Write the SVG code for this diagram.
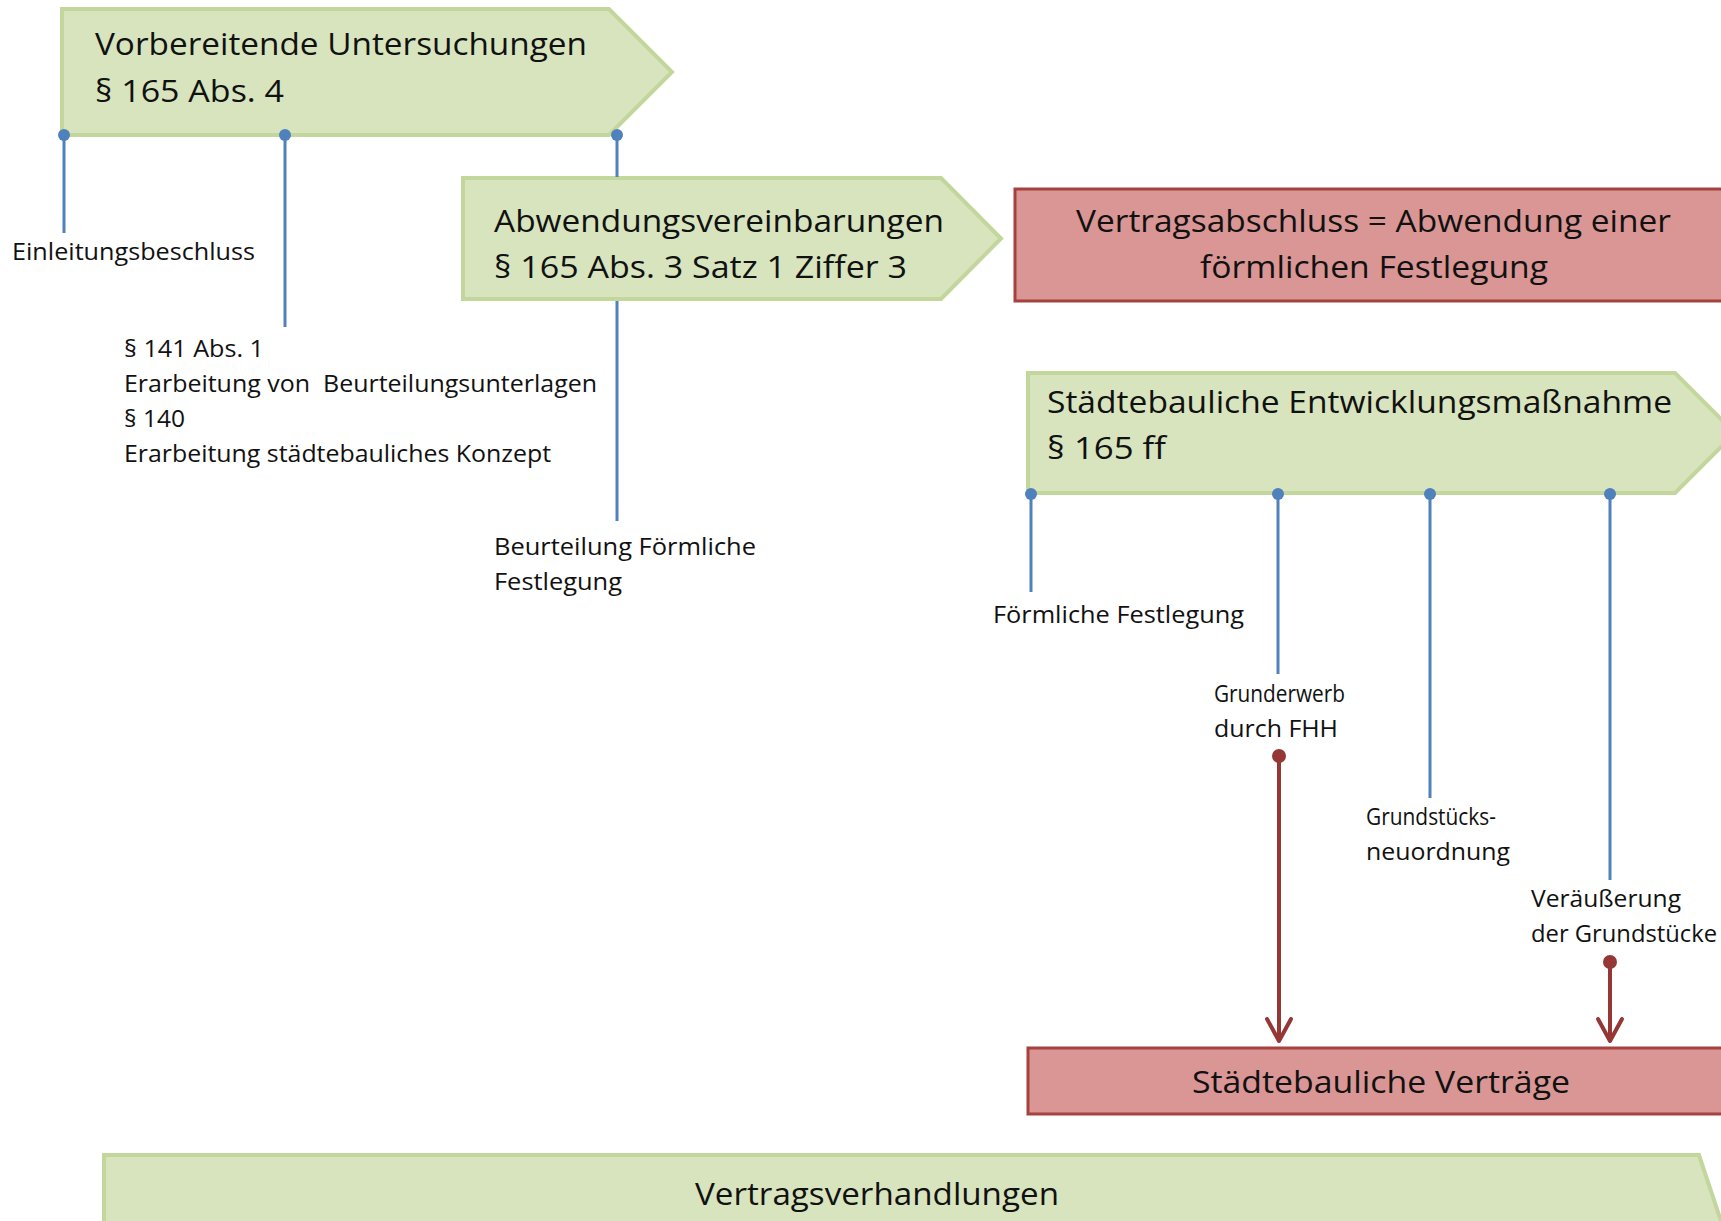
<svg xmlns="http://www.w3.org/2000/svg" width="1721" height="1221" viewBox="0 0 1721 1221">
<style>
.g{fill:#D7E4BD;stroke:#C3D69B;stroke-width:4}
.r{fill:#D99694;stroke:#A5423F;stroke-width:3}
.t{font-family:"Open Sans","Liberation Sans",sans-serif;fill:#111}
.big{font-size:31px}
.sm{font-size:23px}
.bl{stroke:#4F81BD;stroke-width:3;fill:none}
.bd{fill:#4F81BD}
.rl{stroke:#953735;stroke-width:4;fill:none}
.rd{fill:#953735}
</style>
<defs>
<marker id="arr" markerUnits="userSpaceOnUse" viewBox="-26 -16 30 32" refX="0" refY="0" markerWidth="30" markerHeight="32" orient="auto">
<path d="M-22,-12 L0,0 L-22,12" fill="none" stroke="#953735" stroke-width="4" stroke-linejoin="round" stroke-linecap="round"/>
</marker>
</defs>
<rect width="1721" height="1221" fill="#fff"/>

<g id="vorbereitende">
<path class="g" d="M62,9 H609 L672,72 L609,135 H62 Z"/>
<text class="t big" x="95" y="55" textLength="492" lengthAdjust="spacingAndGlyphs">Vorbereitende Untersuchungen</text>
<text class="t big" x="95" y="102" textLength="189" lengthAdjust="spacingAndGlyphs">§ 165 Abs. 4</text>
</g>

<g id="einleitung">
<text class="t sm" x="12" y="260" textLength="243" lengthAdjust="spacingAndGlyphs">Einleitungsbeschluss</text>
</g>

<g id="par141">
<text class="t sm" x="124" y="357" textLength="140" lengthAdjust="spacingAndGlyphs">§ 141 Abs. 1</text>
<text class="t sm" x="124" y="392" xml:space="preserve" textLength="473" lengthAdjust="spacingAndGlyphs">Erarbeitung von  Beurteilungsunterlagen</text>
<text class="t sm" x="124" y="427" textLength="61" lengthAdjust="spacingAndGlyphs">§ 140</text>
<text class="t sm" x="124" y="462" textLength="427" lengthAdjust="spacingAndGlyphs">Erarbeitung städtebauliches Konzept</text>
</g>

<g id="abwendung">
<path class="g" d="M463,178 H941 L1001,238.5 L941,299 H463 Z"/>
<text class="t big" x="494" y="232" textLength="450" lengthAdjust="spacingAndGlyphs">Abwendungsvereinbarungen</text>
<text class="t big" x="494" y="278" textLength="413" lengthAdjust="spacingAndGlyphs">§ 165 Abs. 3 Satz 1 Ziffer 3</text>
</g>

<g id="beurteilung">
<text class="t sm" x="494" y="555" textLength="262" lengthAdjust="spacingAndGlyphs">Beurteilung Förmliche</text>
<text class="t sm" x="494" y="590" textLength="128" lengthAdjust="spacingAndGlyphs">Festlegung</text>
</g>

<g id="vertragsabschluss">
<rect class="r" x="1015" y="189" width="730" height="112"/>
<text class="t big" x="1076" y="232" textLength="595" lengthAdjust="spacingAndGlyphs">Vertragsabschluss = Abwendung einer</text>
<text class="t big" x="1200" y="278" textLength="348" lengthAdjust="spacingAndGlyphs">förmlichen Festlegung</text>
</g>

<g id="entwicklung">
<path class="g" d="M1028,373 H1675 L1735,433 L1675,493 H1028 Z"/>
<text class="t big" x="1047" y="413" textLength="625" lengthAdjust="spacingAndGlyphs">Städtebauliche Entwicklungsmaßnahme</text>
<text class="t big" x="1047" y="459" textLength="119" lengthAdjust="spacingAndGlyphs">§ 165 ff</text>
</g>

<g id="foermliche">
<text class="t sm" x="993" y="623" textLength="251" lengthAdjust="spacingAndGlyphs">Förmliche Festlegung</text>
</g>

<g id="grunderwerb">
<text class="t sm" x="1214" y="702" textLength="131" lengthAdjust="spacingAndGlyphs">Grunderwerb</text>
<text class="t sm" x="1214" y="737" textLength="124" lengthAdjust="spacingAndGlyphs">durch FHH</text>
</g>

<g id="neuordnung">
<text class="t sm" x="1366" y="825" textLength="130" lengthAdjust="spacingAndGlyphs">Grundstücks-</text>
<text class="t sm" x="1366" y="860" textLength="144" lengthAdjust="spacingAndGlyphs">neuordnung</text>
</g>

<g id="veraeusserung">
<text class="t sm" x="1531" y="907" textLength="150" lengthAdjust="spacingAndGlyphs">Veräußerung</text>
<text class="t sm" x="1531" y="942" textLength="186" lengthAdjust="spacingAndGlyphs">der Grundstücke</text>
</g>

<g id="vertraege">
<rect class="r" x="1028" y="1048" width="720" height="66"/>
<text class="t big" x="1192" y="1093" textLength="378" lengthAdjust="spacingAndGlyphs">Städtebauliche Verträge</text>
</g>

<g id="verhandlungen">
<path class="g" d="M104,1155 H1699 L1729,1245 L1699,1335 H104 Z"/>
<text class="t big" x="695" y="1205" textLength="364" lengthAdjust="spacingAndGlyphs">Vertragsverhandlungen</text>
</g>

<g id="connectors">
<line class="bl" x1="64" y1="135" x2="64" y2="233"/>
<line class="bl" x1="285" y1="135" x2="285" y2="327"/>
<line class="bl" x1="617" y1="135" x2="617" y2="177"/>
<line class="bl" x1="617" y1="301" x2="617" y2="521"/>
<line class="bl" x1="1031" y1="494" x2="1031" y2="592"/>
<line class="bl" x1="1278" y1="494" x2="1278" y2="674"/>
<line class="bl" x1="1430" y1="494" x2="1430" y2="798"/>
<line class="bl" x1="1610" y1="494" x2="1610" y2="880"/>
<circle class="bd" cx="64" cy="135" r="6"/>
<circle class="bd" cx="285" cy="135" r="6"/>
<circle class="bd" cx="617" cy="135" r="6"/>
<circle class="bd" cx="1031" cy="494" r="6"/>
<circle class="bd" cx="1278" cy="494" r="6"/>
<circle class="bd" cx="1430" cy="494" r="6"/>
<circle class="bd" cx="1610" cy="494" r="6"/>
<line class="rl" x1="1279" y1="756" x2="1279" y2="1041" marker-end="url(#arr)"/>
<line class="rl" x1="1610" y1="962" x2="1610" y2="1041" marker-end="url(#arr)"/>
<circle class="rd" cx="1279" cy="756" r="7"/>
<circle class="rd" cx="1610" cy="962" r="7"/>
</g>
</svg>
